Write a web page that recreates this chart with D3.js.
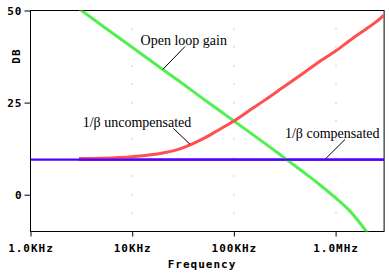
<!DOCTYPE html>
<html>
<head>
<meta charset="utf-8">
<script src="https://cdn.jsdelivr.net/npm/d3@7"></script>
<style>
  body { margin: 0; background: #fff; }
  svg { display: block; }
  .tk { font-family: "DejaVu Sans Mono", monospace; font-weight: bold; font-size: 11px; letter-spacing: 1px; }
  .ann { font-family: "Liberation Serif", "Times New Roman", serif; font-size: 14px; }
</style>
</head>
<body>
<div id="chart"></div>
<script>
const freqs = [3e3, 5e3, 1e4, 2e4, 3e4, 5e4, 7e4, 1e5, 1.5e5, 2e5, 3e5, 5e5, 7e5, 1e6, 1.4e6, 2e6, 2.5e6, 3e6];
// open loop gain (dB)
const openLoop = [50.5, 46, 40, 34, 30.5, 26, 23.1, 20, 16.5, 14, 10.4, 5.8, 2.7, -0.9, -4.6, -9.9, -13.6, -16.6];
// 1/beta uncompensated (dB)
const uncomp = [9.8, 9.9, 10.3, 11.3, 12.5, 15.2, 17.5, 20, 23.3, 25.6, 29, 33.3, 36.2, 39, 42, 45, 46.9, 48.8];
// 1/beta compensated (dB)
const comp = [9.5, 9.5, 9.5, 9.5, 9.5, 9.5, 9.5, 9.5, 9.5, 9.5, 9.5, 9.5, 9.5, 9.5, 9.5, 9.5, 9.5, 9.5];

const xTicks = [1e3, 1e4, 1e5, 1e6];
const xTickLabels = ["1.0KHz", "10KHz", "100KHz", "1.0MHz"];
const yTicks = [0, 25, 50];
const gridDb = [-5, 0, 5, 10, 15, 20, 25, 30, 35, 40, 45];

// labels with leader lines, in data units
const notes = [
  { text: "Open loop gain", f: 12.1e3, db: 40.6, f1: 33e3, db1: 40.2, f2: 20e3, db2: 34 },
  { text: "1/\u03b2 uncompensated", f: 3.26e3, db: 18.5, f1: 25.4e3, db1: 18.0, f2: 37e3, db2: 13.7 },
  { text: "1/\u03b2 compensated", f: 318e3, db: 15.3, f1: 1.24e6, db1: 15.0, f2: 800e3, db2: 9.8 }
];

const W = 389, H = 274;
const x = d3.scaleLog().domain([1e3, 3e6]).range([30.5, 384.1]);
const y = d3.scaleLinear().domain([-10, 50]).range([231.5, 10.5]);

const svg = d3.select("#chart").append("svg")
    .attr("width", W).attr("height", H);

svg.append("defs").append("clipPath").attr("id", "plot")
  .append("rect")
    .attr("x", x(1e3)).attr("y", y(50))
    .attr("width", x(3e6) - x(1e3)).attr("height", y(-10) - y(50));

// dotted grid: dots at decades every 5 dB
const dots = [];
xTicks.slice(1).forEach(f => gridDb.forEach(d => dots.push([f, d])));
svg.append("g").selectAll("rect")
  .data(dots)
  .join("rect")
    .attr("x", d => Math.round(x(d[0])) - 0.5)
    .attr("y", d => Math.round(y(d[1])) - 0.5)
    .attr("width", 1).attr("height", 1)
    .attr("fill", "#a0a0a0");

// frame
svg.append("rect")
    .attr("x", x(1e3)).attr("y", y(50))
    .attr("width", x(3e6) - x(1e3)).attr("height", y(-10) - y(50))
    .attr("fill", "none").attr("stroke", "#000").attr("stroke-width", 1);

// axes
const xAxis = svg.append("g")
    .attr("transform", `translate(0,${y(-10)})`)
    .call(d3.axisBottom(x).tickValues(xTicks).tickSize(5).tickFormat((d, i) => xTickLabels[i]));
xAxis.select(".domain").remove();
xAxis.selectAll("text").attr("class", "tk").attr("y", 20).attr("dy", 0).attr("fill", "#000");

const yAxis = svg.append("g")
    .attr("transform", `translate(${x(1e3)},0)`)
    .call(d3.axisLeft(y).tickValues(yTicks).tickSize(6));
yAxis.select(".domain").remove();
yAxis.selectAll("text").attr("class", "tk").attr("x", -8).attr("fill", "#000");

svg.append("text").attr("class", "tk")
    .attr("transform", "translate(20,56) rotate(-90)")
    .attr("text-anchor", "middle")
    .text("DB");

svg.append("text").attr("class", "tk")
    .attr("x", 202).attr("y", 268)
    .attr("text-anchor", "middle")
    .text("Frequency");

// curves
const line = d3.line()
    .x((d, i) => x(freqs[i]))
    .y(d => y(d))
    .curve(d3.curveMonotoneX);

const curves = svg.append("g").attr("clip-path", "url(#plot)");
curves.append("path").datum(comp)
    .attr("d", line).attr("fill", "none").attr("stroke", "#5000ff").attr("stroke-width", 2.2);
curves.append("path").datum(openLoop)
    .attr("d", line).attr("fill", "none").attr("stroke", "#50f050").attr("stroke-width", 3);
curves.append("path").datum(uncomp)
    .attr("d", line).attr("fill", "none").attr("stroke", "#ff5050").attr("stroke-width", 3);

// blue line runs across the whole width
curves.append("line")
    .attr("x1", x(1e3)).attr("x2", x(3e6))
    .attr("y1", y(comp[0])).attr("y2", y(comp[0]))
    .attr("stroke", "#5000ff").attr("stroke-width", 2.2);

// annotations
const ann = svg.append("g");
ann.selectAll("line")
  .data(notes)
  .join("line")
    .attr("x1", d => x(d.f1)).attr("y1", d => y(d.db1))
    .attr("x2", d => x(d.f2)).attr("y2", d => y(d.db2))
    .attr("stroke", "#000").attr("stroke-width", 1);
ann.selectAll("text")
  .data(notes)
  .join("text")
    .attr("class", "ann")
    .attr("x", d => x(d.f)).attr("y", d => y(d.db))
    .text(d => d.text);
</script>
</body>
</html>
